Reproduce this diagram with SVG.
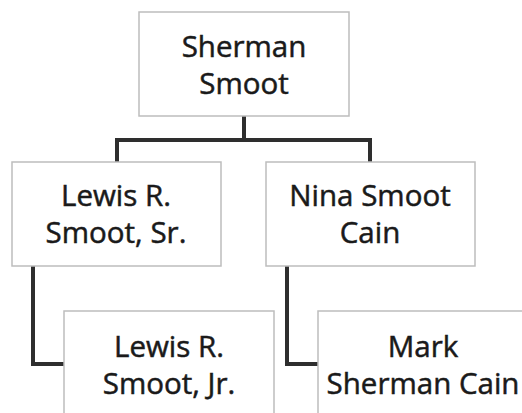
<svg xmlns="http://www.w3.org/2000/svg" width="522" height="413" viewBox="0 0 522 413">
<style>
.box{fill:#fff;stroke:#bdbdbd;stroke-width:1.5}
.t{font-family:"Open Sans","Liberation Sans",Arial,sans-serif;font-size:29.5px;fill:#1a1a1a;stroke:#1a1a1a;stroke-width:0.5;text-anchor:middle}
.c{fill:none;stroke:#2e2e2e;stroke-width:4}
</style>
<rect width="522" height="413" fill="#fff"/>
<g id="connectors">
<path class="c" d="M244 116V140M117 162V140H370V162"/>
<path class="c" d="M33 266V364H64"/>
<path class="c" d="M287 266V364H318"/>
</g>
<g id="sherman">
<rect class="box" x="139" y="12" width="210" height="104"/>
<text class="t" x="244" y="57">Sherman</text>
<text class="t" x="244" y="94">Smoot</text>
</g>
<g id="lewis-sr">
<rect class="box" x="12" y="162" width="209" height="104"/>
<text class="t" x="116" y="206">Lewis R.</text>
<text class="t" x="116" y="243">Smoot, Sr.</text>
</g>
<g id="nina">
<rect class="box" x="266" y="162" width="209" height="104"/>
<text class="t" x="370" y="206">Nina Smoot</text>
<text class="t" x="370" y="243">Cain</text>
</g>
<g id="lewis-jr">
<rect class="box" x="64" y="311" width="210" height="110"/>
<text class="t" x="169" y="357">Lewis R.</text>
<text class="t" x="169" y="394">Smoot, Jr.</text>
</g>
<g id="mark">
<rect class="box" x="318" y="311" width="220" height="110"/>
<text class="t" x="423" y="357">Mark</text>
<text class="t" x="423" y="394">Sherman Cain</text>
</g>
</svg>
